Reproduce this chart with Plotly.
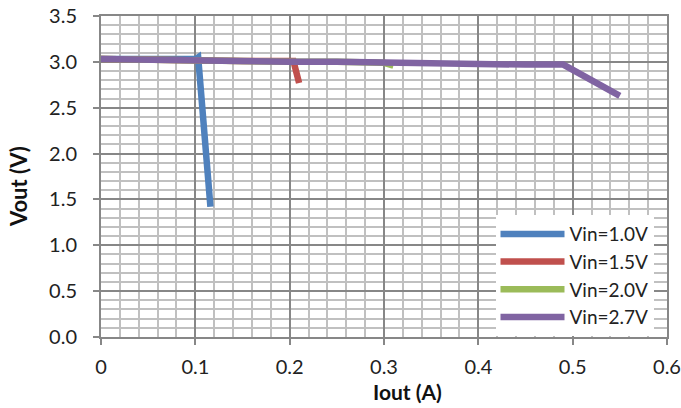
import plotly.graph_objects as go

# Data
names = ["Vin=1.0V", "Vin=1.5V", "Vin=2.0V", "Vin=2.7V"]
colors = ["#4F81BD", "#C0504D", "#9BBB59", "#8064A2"]

x_10 = [0.0, 0.02, 0.04, 0.06, 0.08, 0.10, 0.103, 0.116]
y_10 = [3.03, 3.03, 3.03, 3.03, 3.03, 3.03, 3.05, 1.42]

x_15 = [0.0, 0.05, 0.10, 0.15, 0.20, 0.204, 0.21]
y_15 = [3.03, 3.02, 3.02, 3.01, 3.01, 3.01, 2.77]

x_20 = [0.0, 0.05, 0.10, 0.15, 0.20, 0.25, 0.30, 0.31]
y_20 = [3.03, 3.02, 3.02, 3.01, 3.00, 3.00, 2.99, 2.96]

x_27 = [0.0, 0.05, 0.10, 0.15, 0.20, 0.25, 0.30, 0.35, 0.40, 0.45, 0.49, 0.55]
y_27 = [3.03, 3.02, 3.01, 3.01, 3.00, 3.00, 2.99, 2.98, 2.98, 2.97, 2.97, 2.63]

series_x = [x_10, x_15, x_20, x_27]
series_y = [y_10, y_15, y_20, y_27]

x_title = "Iout (A)"
y_title = "Vout (V)"

font_family = "Lato, 'Open Sans', sans-serif"
major = "#878787"
minor = "#C0C0C0"

fig = go.Figure()
for n, c, xs, ys in zip(names, colors, series_x, series_y):
    fig.add_trace(go.Scatter(x=xs, y=ys, mode="lines", name=n,
                             line=dict(color=c, width=6.5)))

fig.update_layout(
    width=681, height=408,
    margin=dict(l=101, r=14, t=16, b=71, autoexpand=False),
    paper_bgcolor="white", plot_bgcolor="white",
    font=dict(family=font_family, size=20, color="#222222"),
    showlegend=True,
    legend=dict(x=0.697, xanchor="left", y=0.003, yanchor="bottom",
                bgcolor="white", borderwidth=0, itemwidth=64,
                font=dict(size=19, color="#222222"),
                tracegroupgap=0),
    annotations=[
        dict(text="<b>" + x_title + "</b>", xref="paper", yref="paper",
             x=0.541, y=-0.171, xanchor="center", yanchor="middle",
             showarrow=False, font=dict(size=21, color="#111111")),
        dict(text="<b>" + y_title + "</b>", xref="paper", yref="paper",
             x=-0.1467, y=0.47, xanchor="center", yanchor="middle",
             textangle=-90, showarrow=False,
             font=dict(size=22, color="#111111")),
    ],
)
fig.update_xaxes(
    range=[0, 0.6], dtick=0.1, tick0=0, automargin=False,
    showgrid=True, gridcolor=major, gridwidth=1.5,
    minor=dict(dtick=0.02, showgrid=True, gridcolor=minor, gridwidth=1.5),
    showline=True, linecolor=major, linewidth=2, mirror=True,
    ticks="outside", ticklen=6, tickcolor=major, tickwidth=2,
    ticklabelstandoff=5,
    zeroline=False,
)
fig.update_yaxes(
    range=[0, 3.5], dtick=0.5, tick0=0, tickformat=".1f", automargin=False,
    showgrid=True, gridcolor=major, gridwidth=1.5,
    minor=dict(dtick=0.1, showgrid=True, gridcolor=minor, gridwidth=1.5),
    showline=True, linecolor=major, linewidth=2, mirror=True,
    ticks="outside", ticklen=6, tickcolor=major, tickwidth=2,
    ticklabelstandoff=12,
    zeroline=False,
)

fig.write_html(
    "out.html",
    config={"displayModeBar": False},
    post_script="document.body.style.margin='0';document.body.style.overflow='hidden';",
)
